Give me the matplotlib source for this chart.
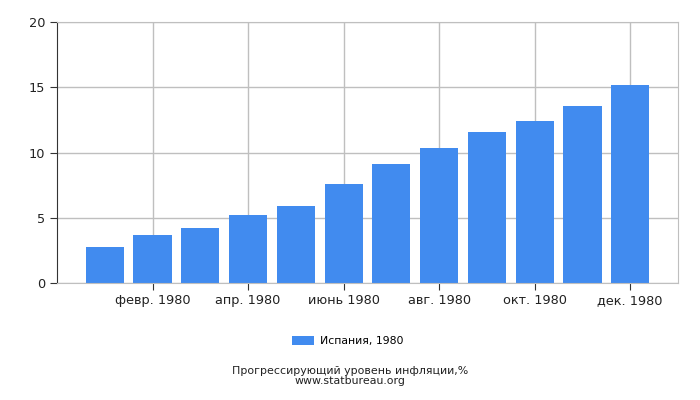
import matplotlib.pyplot as plt
import numpy as np

months = ["янв. 1980", "февр. 1980", "март 1980", "апр. 1980", "май 1980", "июнь 1980",
          "июль 1980", "авг. 1980", "сент. 1980", "окт. 1980", "нояб. 1980", "дек. 1980"]
values = [2.78, 3.70, 4.24, 5.23, 5.92, 7.61, 9.14, 10.37, 11.59, 12.44, 13.59, 15.2]
series_name = "Испания, 1980"
bar_color = "#418bef"

fig = plt.figure(figsize=(7, 4), dpi=100)
ax = fig.add_axes([0.0814, 0.2918, 0.8872, 0.6532])

x = np.arange(len(months))
ax.bar(x, values, width=0.8, color=bar_color, label=series_name, zorder=2)

ax.set_xlim(-1, 12)
ax.set_ylim(0, 20)
ax.set_yticks([0, 5, 10, 15, 20])
tick_idx = x[1::2]
ax.set_xticks(tick_idx)
ax.set_xticklabels([months[i] for i in tick_idx], fontsize=9.3, color="#222222")
ax.tick_params(axis="y", labelsize=9.3, length=5, color="#333333", labelcolor="#222222")
ax.tick_params(axis="x", length=5, color="#333333", pad=3)

ax.grid(True, color="#bfbfbf", linewidth=1, zorder=0)
for side in ("top", "right", "bottom"):
    ax.spines[side].set_color("#bfbfbf")
ax.spines["left"].set_color("#333333")

fig.legend(loc="center", bbox_to_anchor=(0.497, 0.148), frameon=False, fontsize=7.8,
           handlelength=2.0, handleheight=0.9, handletextpad=0.55)
fig.text(0.5, 0.06, "Прогрессирующий уровень инфляции,%\nwww.statbureau.org",
         ha="center", va="center", fontsize=7.9, linespacing=1.0, color="#222222")

fig.savefig("out.png", dpi=100)
